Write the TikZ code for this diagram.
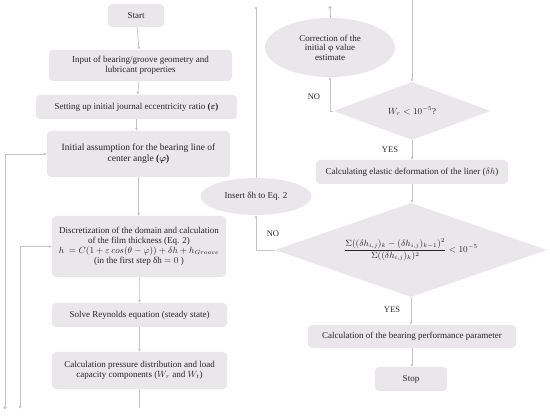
\documentclass[tikz,border=0pt]{standalone}
\usepackage{amsmath}
\usepackage{fontspec}
\setmainfont{Liberation Serif}
\usetikzlibrary{shapes.geometric,arrows.meta}
\definecolor{boxgray}{HTML}{E9E7E9}
\definecolor{linegray}{HTML}{C4C4C4}
\definecolor{txt}{HTML}{262626}
\tikzset{
	box/.style={rectangle,rounded corners=4pt,fill=boxgray,inner sep=0pt,align=center,text=txt,font=\fontsize{9}{9}\selectfont},
	oval/.style={ellipse,fill=boxgray,inner sep=0pt,align=center,text=txt,font=\fontsize{9}{9.6}\selectfont},
	decision/.style={diamond,fill=boxgray,inner sep=0pt,align=center,text=txt,font=\fontsize{9}{9}\selectfont},
	flow/.style={draw=linegray,line width=0.7pt,-{Latex[length=3pt,width=3pt]}},
	link/.style={draw=linegray,line width=0.7pt},
	lbl/.style={text=txt,font=\fontsize{8.5}{9}\selectfont}
}
\begin{document}
\begin{tikzpicture}[x=1pt,y=-1pt]
	\useasboundingbox (0,0) rectangle (550,417);
	% left column
	\node[box,minimum width=56,minimum height=23] (start) at (136,15.5) {Start};
	\node[box,minimum width=183,minimum height=31,font=\fontsize{9}{10}\selectfont] (input) at (140.5,65.5) {Input of bearing/groove geometry and\\lubricant properties};
	\node[box,minimum width=201,minimum height=24] (ecc) at (136.5,107) {Setting up initial journal eccentricity ratio \textbf{(}$\boldsymbol{\varepsilon}$\textbf{)}};
	\node[box,minimum width=183,minimum height=46,font=\fontsize{9.5}{11}\selectfont] (angle) at (138.5,154) {Initial assumption for the bearing line of\\center angle \textbf{(}$\boldsymbol{\varphi}$\textbf{)}};
	\node[box,minimum width=174,minimum height=61,font=\fontsize{9}{10}\selectfont] (film) at (139,246.5) {Discretization of the domain and calculation\\of the film thickness (Eq. 2)\\$h\ = C(1+\varepsilon\,cos(\theta-\varphi))+\delta h+h_{Groove}$\\(in the first step δh $=0$ )};
	\node[box,minimum width=175,minimum height=24] (reyn) at (139.5,315) {Solve Reynolds equation (steady state)};
	\node[box,minimum width=175,minimum height=37,font=\fontsize{9}{10}\selectfont] (load) at (139.5,370.5) {Calculation pressure distribution and load\\capacity components ($W_r$ and $W_t$)};
	% right column
	\node[oval,minimum width=111,minimum height=37] (insert) at (256,196.5) {Insert δh to Eq. 2};
	\node[oval,minimum width=130,minimum height=59] (corr) at (330,47.5) {Correction of the\\initial φ value\\estimate};
	\node[decision,aspect=2.7,minimum width=157,minimum height=58] (chk1) at (412,111) {$W_r<10^{-5}$?};
	\node[box,minimum width=192,minimum height=24] (elast) at (412,172) {Calculating elastic deformation of the liner ($\delta h$)};
	\node[decision,aspect=2.9,minimum width=272,minimum height=94] (chk2) at (411,250) {$\dfrac{\Sigma((\delta h_{i,j})_k-(\delta h_{i,j})_{k-1})^2}{\Sigma((\delta h_{i,j})_k)^2}<10^{-5}$};
	\node[box,minimum width=208,minimum height=23] (perf) at (412,336.5) {Calculation of the bearing performance parameter};
	\node[box,minimum width=72,minimum height=24] (stop) at (411,379) {Stop};
	% open ends
	\coordinate (e1) at (5,409);
	\coordinate (e2) at (20,409);
	\coordinate (e3) at (139.5,408);
	\coordinate (e4) at (412,0);
	\coordinate (e5) at (330,6);
	\coordinate (e6) at (256,6);
	% connectors
	\draw[flow] (start) -- (input);
	\draw[flow] (input) -- (ecc);
	\draw[flow] (ecc.south) -- (ecc.south|-angle.north);
	\draw[flow] (angle.south) -- (angle.south|-film.north);
	\draw[flow] (film) -- (reyn);
	\draw[flow] (reyn) -- (load);
	\draw[link] (load) -- (e3);
	\draw[flow,{Circle[length=3pt]}-{Latex[length=3pt,width=3pt]}] (e1) |- (angle.west);
	\draw[flow,{Latex[length=3pt,width=3pt]}-{Latex[length=3pt,width=3pt]}] (e2) |- (film.west);
	\draw[flow] (e4) -- (chk1);
	\draw[flow] (chk1.west) -| (corr.south-|e5);
	\draw[link,-{Circle[length=3pt]}] (corr.north-|e5) -- (e5);
	\draw[flow] (chk1) -- (elast);
	\draw[flow] (elast.south) -- (elast.south|-chk2.north);
	\draw[flow] (chk2.west) -| (insert.south);
	\draw[flow] (insert) -- (e6);
	\draw[flow] (chk2.south) -- (chk2.south|-perf.north);
	\draw[flow] (perf.south) -- (perf.south|-stop.north);
	% labels
	\node[lbl] (no1) at (314,97) {NO};
	\node[lbl] (yes1) at (390,150) {YES};
	\node[lbl] (no2) at (273,234) {NO};
	\node[lbl] (yes2) at (392,310) {YES};
\end{tikzpicture}
\end{document}
